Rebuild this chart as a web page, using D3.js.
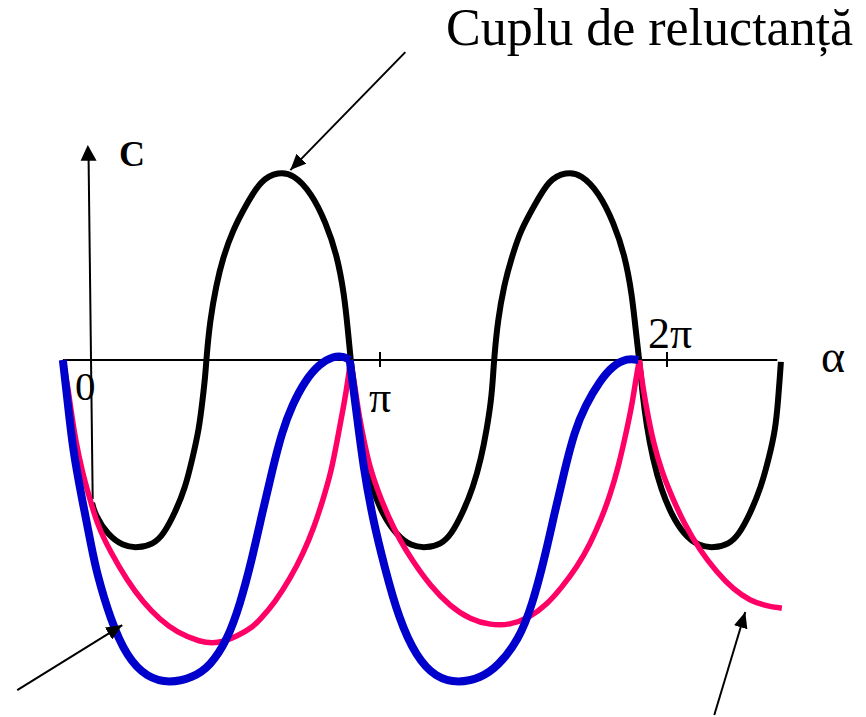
<!DOCTYPE html>
<html>
<head>
<meta charset="utf-8">
<script src="https://cdn.jsdelivr.net/npm/d3@7"></script>
<style>
  html, body { margin: 0; padding: 0; background: #fff; }
  svg { display: block; }
</style>
</head>
<body>
<svg id="chart" width="866" height="717"></svg>
<script>
// Angle α in radians, torque C in relative units.

// Reluctance torque (black)
const reluctanceTorque = [
  [-0.01,-0.76],[0.02,-0.82],[0.16,-0.93],[0.33,-0.99],[0.49,-1.00],[0.66,-0.98],[0.77,-0.93],
  [0.90,-0.81],[1.01,-0.68],[1.09,-0.52],[1.16,-0.37],[1.20,-0.21],[1.23,-0.08],[1.24,0],
  [1.28,0.21],[1.35,0.40],[1.42,0.54],[1.53,0.69],[1.67,0.82],[1.84,0.96],[2.03,1.00],
  [2.19,0.99],[2.39,0.89],[2.55,0.73],[2.67,0.56],[2.75,0.35],[2.79,0.16],[2.82,0],
  [2.86,-0.16],[2.91,-0.35],[2.98,-0.53],[3.06,-0.69],[3.17,-0.82],[3.32,-0.93],[3.48,-0.99],
  [3.65,-1.00],[3.81,-0.98],[3.92,-0.93],[4.05,-0.81],[4.16,-0.68],[4.25,-0.52],[4.31,-0.37],
  [4.36,-0.21],[4.38,-0.08],[4.39,0],
  [4.43,0.21],[4.50,0.40],[4.58,0.54],[4.68,0.69],[4.83,0.82],[4.99,0.96],[5.18,1.00],
  [5.34,0.99],[5.54,0.89],[5.70,0.73],[5.82,0.56],[5.90,0.35],[5.94,0.16],[5.98,0],
  [6.01,-0.16],[6.06,-0.35],[6.13,-0.53],[6.22,-0.69],[6.33,-0.82],[6.47,-0.93],[6.63,-0.99],
  [6.80,-1.00],[6.96,-0.98],[7.07,-0.93],[7.20,-0.81],[7.31,-0.68],[7.40,-0.52],[7.47,-0.37],
  [7.50,-0.21],[7.52,-0.08],[7.53,-0.01]
];

// Blue curve, one arc per half period
const blueArc1 = [
  [-0.33,0],[-0.28,-0.21],[-0.22,-0.48],[-0.12,-0.74],[-0.01,-1.01],[0.04,-1.13],[0.19,-1.38],
  [0.37,-1.58],[0.59,-1.69],[0.84,-1.72],[1.09,-1.69],[1.28,-1.63],[1.47,-1.49],[1.61,-1.30],
  [1.74,-1.06],[1.85,-0.82],[1.96,-0.59],[2.07,-0.38],[2.18,-0.24],[2.32,-0.11],[2.48,-0.02],
  [2.63,0.02],[2.74,0.02],[2.81,0]
];
const blueArc2 = [
  [2.81,0],[2.89,-0.30],[2.96,-0.57],[3.06,-0.84],[3.19,-1.10],[3.35,-1.38],[3.54,-1.58],
  [3.75,-1.69],[4.00,-1.72],[4.25,-1.69],[4.43,-1.63],[4.66,-1.49],[4.81,-1.30],[4.94,-1.06],
  [5.05,-0.82],[5.16,-0.59],[5.27,-0.38],[5.39,-0.24],[5.55,-0.11],[5.69,-0.03],[5.85,0.01],
  [5.97,0]
];

// Pink curve, one arc between each pair of cusps
const pinkArc1 = [
  [-0.33,0],[-0.28,-0.13],[-0.24,-0.27],[-0.19,-0.43],[-0.12,-0.59],[-0.04,-0.73],[0.05,-0.88],
  [0.19,-1.02],[0.37,-1.17],[0.55,-1.29],[0.73,-1.38],[0.92,-1.45],[1.17,-1.50],[1.36,-1.51],
  [1.58,-1.47],[1.75,-1.42],[1.83,-1.38],[1.99,-1.29],[2.16,-1.16],[2.30,-1.03],[2.42,-0.89],
  [2.52,-0.74],[2.61,-0.59],[2.68,-0.41],[2.75,-0.23],[2.79,-0.11],[2.82,0]
];
const pinkArc2 = [
  [2.82,0],[2.87,-0.15],[2.91,-0.29],[2.97,-0.44],[3.03,-0.57],[3.12,-0.70],[3.23,-0.83],
  [3.36,-0.96],[3.50,-1.07],[3.69,-1.20],[3.91,-1.31],[4.13,-1.38],[4.35,-1.41],[4.56,-1.41],
  [4.78,-1.37],[4.97,-1.30],[5.13,-1.21],[5.30,-1.10],[5.44,-0.98],[5.56,-0.85],[5.66,-0.72],
  [5.75,-0.57],[5.83,-0.40],[5.90,-0.24],[5.94,-0.11],[5.98,0]
];
const pinkArc3 = [
  [5.98,0],[6.02,-0.15],[6.08,-0.31],[6.14,-0.45],[6.23,-0.60],[6.34,-0.73],[6.47,-0.87],
  [6.64,-1.01],[6.83,-1.13],[7.01,-1.22],[7.19,-1.28],[7.38,-1.31],[7.54,-1.32]
];

// Axis: extent of the α axis and the labelled ticks
const alphaExtent = [-0.33, 7.49];
const tickValues = [Math.PI, 2 * Math.PI];
const tickLabels = ["π", "2π"];
const axisLabels = { x: "α", y: "C", origin: "0" };
const title = "Cuplu de reluctanță";

const serif = "'Liberation Serif', 'Times New Roman', Times, serif";
const svg = d3.select("#chart");

const x = d3.scaleLinear().domain([0, 2 * Math.PI]).range([93, 667]);
const y = d3.scaleLinear().domain([-1, 1]).range([548, 172]);

// filled arrowhead used by the pointer lines
svg.append("defs").append("marker")
  .attr("id", "head")
  .attr("viewBox", "0 0 16 14")
  .attr("refX", 16).attr("refY", 7)
  .attr("markerWidth", 16).attr("markerHeight", 14)
  .attr("markerUnits", "userSpaceOnUse")
  .attr("orient", "auto")
  .append("path").attr("d", "M0,0 L16,7 L0,14 Z").attr("fill", "#000");

// α axis line
svg.append("line")
  .attr("x1", x(alphaExtent[0])).attr("x2", x(alphaExtent[1]))
  .attr("y1", y(0)).attr("y2", y(0))
  .attr("stroke", "#000").attr("stroke-width", 2);

// ticks at π and 2π
svg.selectAll("line.tick").data(tickValues).join("line")
  .attr("class", "tick")
  .attr("x1", d => x(d)).attr("x2", d => x(d))
  .attr("y1", y(0) - 8).attr("y2", y(0) + 7)
  .attr("stroke", "#000").attr("stroke-width", 2);

// C axis (slightly leaning line with arrowhead)
const cBottom = [x(0) - 0.3, y(-0.74)];
const cTop = [x(0) - 4.4, y(1.065)];
const cTip = [x(0) - 5.2, y(1.144)];
svg.append("line")
  .attr("x1", cBottom[0]).attr("y1", cBottom[1])
  .attr("x2", cTop[0]).attr("y2", cTop[1])
  .attr("stroke", "#000").attr("stroke-width", 2);
svg.append("path")
  .attr("d", `M${cTip[0]},${cTip[1]} L${cTop[0] + 8},${cTop[1] + 1} L${cTop[0] - 8},${cTop[1] + 1} Z`)
  .attr("fill", "#000");

// curves (B-spline through the sampled points)
const lineGen = d3.line()
  .x(d => x(d[0])).y(d => y(d[1]))
  .curve(d3.curveBasis);

const curves = [
  { data: reluctanceTorque, color: "#000000", width: 6 },
  { data: pinkArc1, color: "#FF0066", width: 5.5 },
  { data: pinkArc2, color: "#FF0066", width: 5.5 },
  { data: pinkArc3, color: "#FF0066", width: 5.5 },
  { data: blueArc1, color: "#0000CC", width: 8 },
  { data: blueArc2, color: "#0000CC", width: 8 }
];
svg.selectAll("path.curve").data(curves).join("path")
  .attr("class", "curve")
  .attr("d", d => lineGen(d.data))
  .attr("fill", "none")
  .attr("stroke", d => d.color)
  .attr("stroke-width", d => d.width)
  .attr("stroke-linejoin", "round");

// pointer arrows
const pointers = [
  { at: [2.16, 1.01], from: [115, -118] },
  { at: [0.32, -1.41], from: [-105, 65] },
  { at: [7.14, -1.34], from: [-31, 103] }
];
svg.selectAll("line.pointer").data(pointers).join("line")
  .attr("class", "pointer")
  .attr("x1", d => x(d.at[0]) + d.from[0]).attr("y1", d => y(d.at[1]) + d.from[1])
  .attr("x2", d => x(d.at[0])).attr("y2", d => y(d.at[1]))
  .attr("stroke", "#000").attr("stroke-width", 2)
  .attr("marker-end", "url(#head)");

// text
const label = (tx, ty, size, str) => svg.append("text")
  .attr("x", tx).attr("y", ty)
  .attr("font-family", serif).attr("font-size", size)
  .attr("fill", "#000")
  .text(str);

label(446, 45, 52, title);
label(x(0) + 26, 166, 36, axisLabels.y).attr("font-weight", "bold");
label(x(0) - 18, y(0) + 40, 41, axisLabels.origin);
label(x(tickValues[0]), y(0) + 52, 44, tickLabels[0]).attr("text-anchor", "middle");
label(x(tickValues[1]) - 19, y(0) - 12, 44, tickLabels[1]);
label(821, y(0) + 12, 46, axisLabels.x);
</script>
</body>
</html>
